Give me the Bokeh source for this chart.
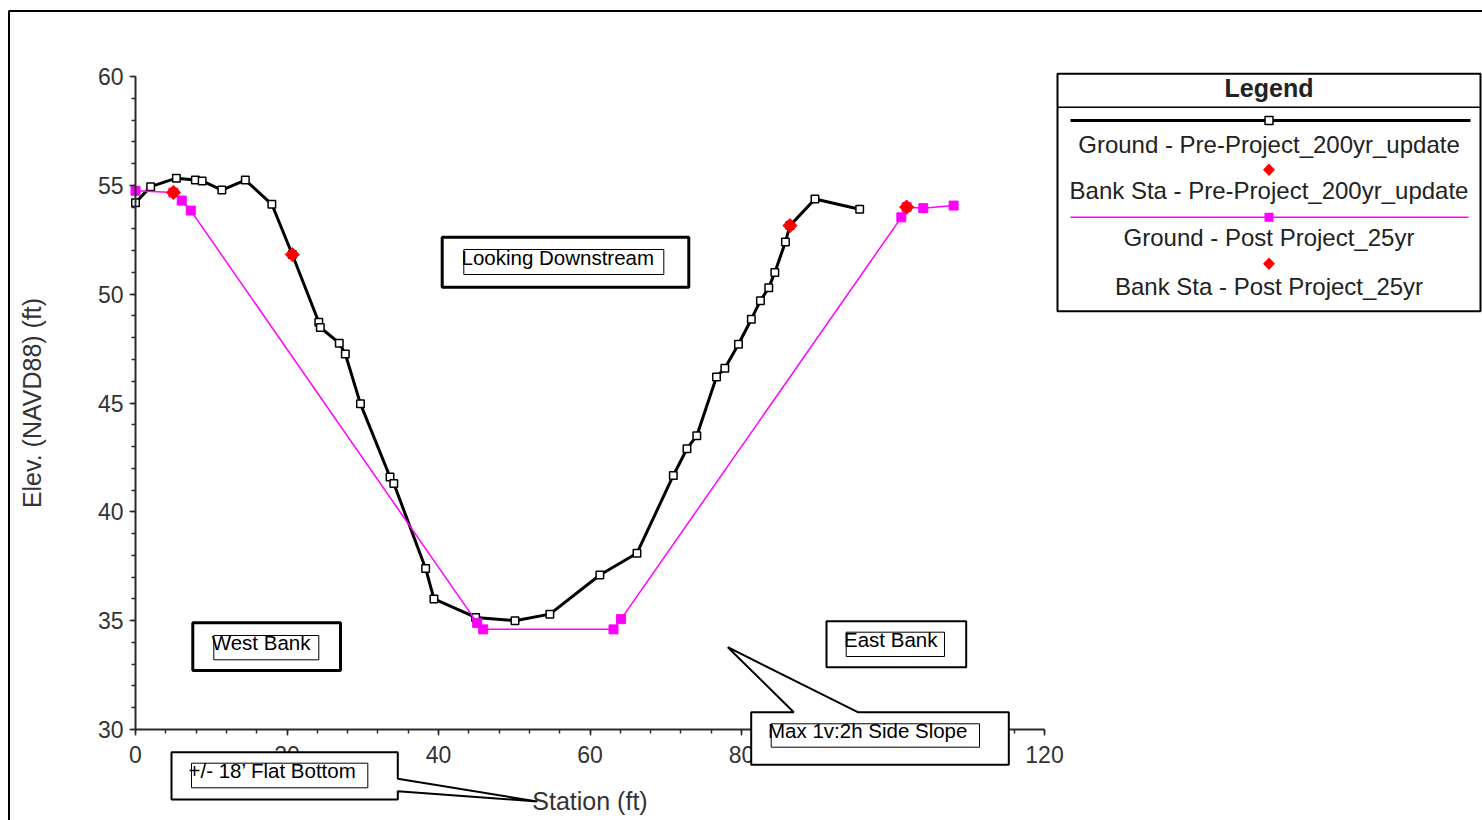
from math import pi
from bokeh.plotting import figure
from bokeh.models import Range1d, SingleIntervalTicker, BoxAnnotation, PolyAnnotation, Label
from bokeh.embed import file_html
from bokeh.resources import INLINE

# ---------------- data ----------------
pre_sta = [0, 2.0, 5.4, 7.9, 8.8, 11.4, 14.5, 18.0, 20.7, 24.2, 24.4, 26.9, 27.7, 29.7,
           33.6, 34.1, 38.3, 39.4, 44.9, 50.1, 54.7, 61.3, 66.2, 71.0, 72.8, 74.1, 76.7,
           77.8, 79.6, 81.3, 82.5, 83.6, 84.4, 85.8, 86.4, 89.7, 95.6]
pre_elev = [54.2, 54.94, 55.33, 55.24, 55.2, 54.78, 55.24, 54.13, 51.82, 48.71, 48.47, 47.75,
            47.25, 44.96, 41.6, 41.3, 37.4, 36.0, 35.15, 35.0, 35.3, 37.1, 38.1, 41.67, 42.9,
            43.5, 46.2, 46.6, 47.7, 48.85, 49.7, 50.3, 51.0, 52.4, 53.15, 54.37, 53.9]

post_sta = [0, 5.0, 6.1, 7.3, 45.1, 45.9, 63.1, 64.1, 101.1, 101.8, 104.0, 108.0]
post_elev = [54.75, 54.67, 54.3, 53.84, 34.9, 34.6, 34.6, 35.07, 53.53, 54.0, 53.95, 54.07]

bank_pre_sta = [20.7, 86.4]
bank_pre_elev = [51.82, 53.15]
bank_post_sta = [5.0, 101.8]
bank_post_elev = [54.67, 54.0]

legend_labels = ["Ground - Pre-Project_200yr_update",
                 "Bank Sta - Pre-Project_200yr_update",
                 "Ground - Post Project_25yr",
                 "Bank Sta - Post Project_25yr"]

X_MIN, X_MAX = 0, 120
Y_MIN, Y_MAX = 30, 60

# ---------------- layout ----------------
W, H = 1482, 820
AX_L, AX_T, AX_W, AX_H = 135, 76, 909, 653   # axes box position on canvas (px)
SX = AX_W / (X_MAX - X_MIN)
SY = AX_H / (Y_MAX - Y_MIN)
XR0 = X_MIN - AX_L / SX
XR1 = XR0 + W / SX
YR1 = Y_MAX + AX_T / SY
YR0 = YR1 - H / SY

def dx(px):  # canvas pixel -> data x
    return XR0 + px / SX

def dy(py):  # canvas pixel -> data y
    return YR1 - py / SY

p = figure(width=W, height=H, output_backend="svg", toolbar_location=None,
           x_range=Range1d(XR0, XR1), y_range=Range1d(YR0, YR1),
           min_border=0, min_border_left=0, min_border_right=0,
           min_border_top=0, min_border_bottom=0)
p.title.visible = False
p.outline_line_color = None
p.xgrid.visible = False
p.ygrid.visible = False
p.background_fill_color = "white"
p.border_fill_color = "white"

AX_COL = "#2a2a2a"
xa, ya = p.xaxis[0], p.yaxis[0]
xa.fixed_location = Y_MIN
ya.fixed_location = X_MIN
xa.bounds = (X_MIN, X_MAX)
ya.bounds = (Y_MIN, Y_MAX)
for ax in (xa, ya):
    ax.axis_line_width = 2
    ax.axis_line_color = AX_COL
    ax.major_tick_line_color = AX_COL
    ax.minor_tick_line_color = AX_COL
    ax.major_tick_line_width = 1.5
    ax.minor_tick_line_width = 1.5
    ax.major_tick_in = 0
    ax.major_tick_out = 6
    ax.minor_tick_in = 0
    ax.minor_tick_out = 4
    ax.major_label_text_font = "Liberation Sans"
    ax.major_label_text_font_size = "23px"
    ax.major_label_text_color = "#333333"
    ax.axis_label_text_font = "Liberation Sans"
    ax.axis_label_text_font_size = "25px"
    ax.axis_label_text_font_style = "normal"
    ax.axis_label_text_color = "#333333"

xa.ticker = SingleIntervalTicker(interval=20, num_minor_ticks=5)
ya.ticker = SingleIntervalTicker(interval=5, num_minor_ticks=5)
xa.axis_label = "Station (ft)"
ya.axis_label = "Elev. (NAVD88) (ft)"
xa.major_label_standoff = 10
ya.major_label_standoff = 6
xa.axis_label_standoff = 21
ya.axis_label_standoff = 49

# ---------------- data series ----------------
p.line(pre_sta, pre_elev, line_color="black", line_width=3)
p.scatter(pre_sta, pre_elev, marker="square", size=7.5, fill_color="white",
          line_color="black", line_width=1.5)
p.line(post_sta, post_elev, line_color="#FF00FF", line_width=1.5)
p.scatter(post_sta, post_elev, marker="square", size=9, fill_color="#FF00FF",
          line_color="#FF00FF")
p.scatter(bank_pre_sta, bank_pre_elev, marker="square", angle=pi / 4, size=10,
          fill_color="#FF0000", line_color="#FF0000")
p.scatter(bank_post_sta, bank_post_elev, marker="square", angle=pi / 4, size=10,
          fill_color="#FF0000", line_color="#FF0000")

# ---------------- helpers for annotations ----------------
def box(x0, y0, x1, y1, lw=1, fill="white", line="black"):
    b = BoxAnnotation(left=dx(x0), right=dx(x1), top=dy(y0), bottom=dy(y1),
                      fill_color=fill if fill else "white", fill_alpha=1 if fill else 0,
                      line_color=line if line else "black", line_width=lw,
                      line_alpha=1 if line else 0)
    p.add_layout(b)

def poly(pts, lw=1, fill="white", line="black"):
    a = PolyAnnotation(xs=[dx(x) for x, _ in pts], ys=[dy(y) for _, y in pts],
                       fill_color=fill if fill else "white", fill_alpha=1 if fill else 0,
                       line_color=line if line else "black", line_width=lw,
                       line_alpha=1 if line else 0)
    p.add_layout(a)

def text(x, y, s, size=20.5, align="left", style="normal", color="black"):
    # Label draws a little low with an alphabetic baseline; compensate
    p.add_layout(Label(x=dx(x), y=dy(y - 0.4 * size), text=s, text_font="Liberation Sans",
                       text_font_size=f"{size}px", text_align=align,
                       text_baseline="alphabetic", text_font_style=style, text_color=color))

# outer page frame
box(8.5, 10.5, 1500, 840, lw=2, fill=None)

# Looking Downstream
box(441.7, 236.7, 688.3, 286.7, lw=3)
box(463.3, 249, 663.3, 274, lw=1)
text(461, 265.5, "Looking Downstream")

# West Bank
box(192.3, 622.3, 340, 670, lw=3)
box(213.3, 635, 318.3, 659.3, lw=1)
text(211.2, 650, "West Bank")

# East Bank
box(826, 620.7, 965.7, 666.7, lw=2)
box(845.7, 631.7, 944, 656, lw=1)
text(843.5, 647, "East Bank")

# Max side slope callout
poly([(750.7, 711.7), (793.3, 711.7), (727.3, 646.7), (857.3, 711.7),
      (1008.3, 711.7), (1008.3, 764.3), (750.7, 764.3)], lw=2)
box(770.7, 723.3, 979, 746.7, lw=1)
text(767.5, 738, "Max 1v:2h Side Slope")

# Flat bottom callout
poly([(171, 751.7), (397.3, 751.7), (397.3, 778.3), (536.7, 801),
      (397.3, 790.7), (397.3, 799), (171, 799)], lw=2)
box(191, 762.7, 367.3, 787.3, lw=1)
text(188, 778.3, "+/- 18\u2019 Flat Bottom")

# ---------------- legend ----------------
LX0, LX1 = 1057, 1480
LC = (LX0 + LX1) / 2
box(LX0, 73.3, LX1, 310.7, lw=2)
box(LX0, 106, LX1, 107.5, lw=0, fill="black", line=None)
text(LC, 97, "Legend", size=25, align="center", style="bold", color="#222222")
# black line + hollow square
box(1070, 118.5, 1470, 121.5, lw=0, fill="black", line=None)
box(LC - 4, 116, LC + 4, 124, lw=1.5, fill="white", line="black")
text(LC, 153.3, legend_labels[0], size=24, align="center", color="#222222")
# red diamond
poly([(LC, 163), (LC + 6, 169.3), (LC, 175.6), (LC - 6, 169.3)], lw=0, fill="#FF0000", line=None)
text(LC, 200, legend_labels[1], size=24, align="center", color="#222222")
# magenta line + filled square
box(1070, 216, 1468, 217.5, lw=0, fill="#FF00FF", line=None)
box(LC - 4.5, 212.2, LC + 4.5, 221.2, lw=0, fill="#FF00FF", line=None)
text(LC, 246.7, legend_labels[2], size=24, align="center", color="#222222")
poly([(LC, 257), (LC + 6, 263.3), (LC, 269.6), (LC - 6, 263.3)], lw=0, fill="#FF0000", line=None)
text(LC, 296, legend_labels[3], size=24, align="center", color="#222222")

open("out.html", "w").write(file_html(p, INLINE))
